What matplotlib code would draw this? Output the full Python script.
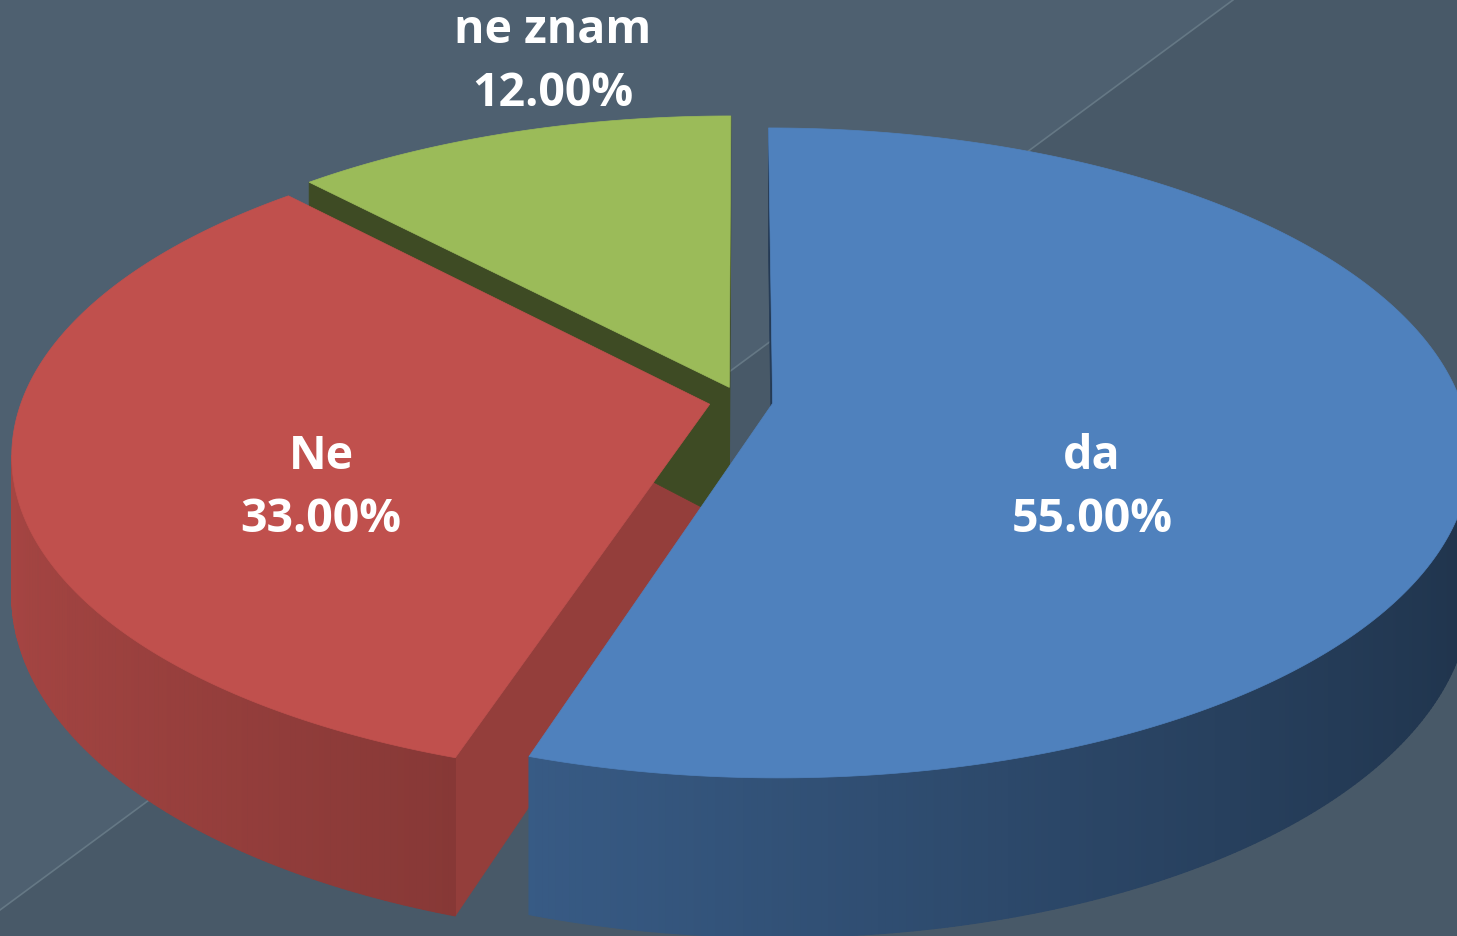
import numpy as np
import matplotlib
matplotlib.use('Agg')
import matplotlib.pyplot as plt
from matplotlib.patches import Polygon
from matplotlib.collections import PolyCollection
import matplotlib.colors as mcolors

# ---- data ----
categories = ['da', 'Ne', 'ne znam']
values = [55.0, 33.0, 12.0]
value_labels = ['55.00%', '33.00%', '12.00%']

# ---- style ----
colors = ['#4f81bd', '#c0504d', '#9bbb59']
cut_shade = [0.45, 0.77, 0.40]
label_pos = [(1092, 532), (321, 532), (553, 106)]   # baseline of percentage line
LINE_GAP = 63

W, H = 1457, 936
CX, CY = 741.0, 401.0
RX, RY = 688.0, 316.7
K = 0.1525
DEPTH = 135.0
EXPLODE = 0.0465


def project(X, Y, z=0.0):
    s = 1.0 / (1.0 + K * Y)
    return CX + RX * X * s, CY - RY * Y * s + DEPTH * z * s


def shade(c, f):
    r, g, b = mcolors.to_rgb(c)
    return (r * f, g * f, b * f)


def wall_factor(phi):
    return 0.63 - 0.235 * np.sin(phi)


fig = plt.figure(figsize=(W / 100, H / 100), dpi=100)
fig.patch.set_facecolor('#485968')
ax = fig.add_axes([0, 0, 1, 1])
ax.set_xlim(0, W)
ax.set_ylim(H, 0)
ax.axis('off')

# background decoration
ax.add_patch(Polygon([(0, 0), (1233, 0), (0, 910)], closed=True,
                     facecolor='#4e6070', edgecolor='none', zorder=0))
ax.plot([0, 1233], [910, 0], color='#657885', lw=1.2, zorder=0.5)

total = sum(values)
cum = np.concatenate([[0], np.cumsum(values)]) / total * 2 * np.pi
cam = np.array([0.0, -1.0 / K])

for i, v in enumerate(values):
    a0, a1 = cum[i], cum[i + 1]
    mid = 0.5 * (a0 + a1)
    o = np.array([EXPLODE * np.sin(mid), EXPLODE * np.cos(mid)])
    base = colors[i]

    # radial cut faces
    for ang, sign in ((a0, -1), (a1, 1)):
        n = sign * np.array([np.cos(ang), -np.sin(ang)])
        if np.dot(n, cam - o) > 0:
            rim = o + np.array([np.sin(ang), np.cos(ang)])
            pts = [project(o[0], o[1], 0), project(rim[0], rim[1], 0),
                   project(rim[0], rim[1], 1), project(o[0], o[1], 1)]
            c = shade(base, cut_shade[i])
            ax.add_patch(Polygon(pts, closed=True, facecolor=c, edgecolor=c,
                                 lw=0.5, zorder=1))

    # outer wall
    phis = np.linspace(a0, a1, max(int(np.degrees(a1 - a0) * 2), 4))
    quads, cols = [], []
    for p1, p2 in zip(phis[:-1], phis[1:]):
        pm = 0.5 * (p1 + p2)
        n = np.array([np.sin(pm), np.cos(pm)])
        P = o + n
        if np.dot(n, cam - P) <= 0:
            continue
        q1 = o + np.array([np.sin(p1), np.cos(p1)])
        q2 = o + np.array([np.sin(p2), np.cos(p2)])
        quads.append([project(q1[0], q1[1], 0), project(q2[0], q2[1], 0),
                      project(q2[0], q2[1], 1), project(q1[0], q1[1], 1)])
        cols.append(shade(base, wall_factor(pm)))
    if quads:
        ax.add_collection(PolyCollection(quads, facecolors=cols, edgecolors=cols,
                                         linewidths=0.8, zorder=2))

for i, v in enumerate(values):
    a0, a1 = cum[i], cum[i + 1]
    mid = 0.5 * (a0 + a1)
    o = np.array([EXPLODE * np.sin(mid), EXPLODE * np.cos(mid)])
    phis = np.linspace(a0, a1, 300)
    pts = [project(o[0], o[1], 0)]
    for p in phis:
        q = o + np.array([np.sin(p), np.cos(p)])
        pts.append(project(q[0], q[1], 0))
    ax.add_patch(Polygon(pts, closed=True, facecolor=colors[i],
                         edgecolor=colors[i], lw=0.5, zorder=3))

for i, (name, lab) in enumerate(zip(categories, value_labels)):
    x, y = label_pos[i]
    ax.text(x, y - LINE_GAP, name, ha='center', va='baseline', color='white',
            fontsize=33.5, fontweight='bold', family='Open Sans', zorder=5)
    ax.text(x, y, lab, ha='center', va='baseline', color='white',
            fontsize=33.5, fontweight='bold', family='Open Sans', zorder=5)

fig.savefig('out.png', dpi=100)
